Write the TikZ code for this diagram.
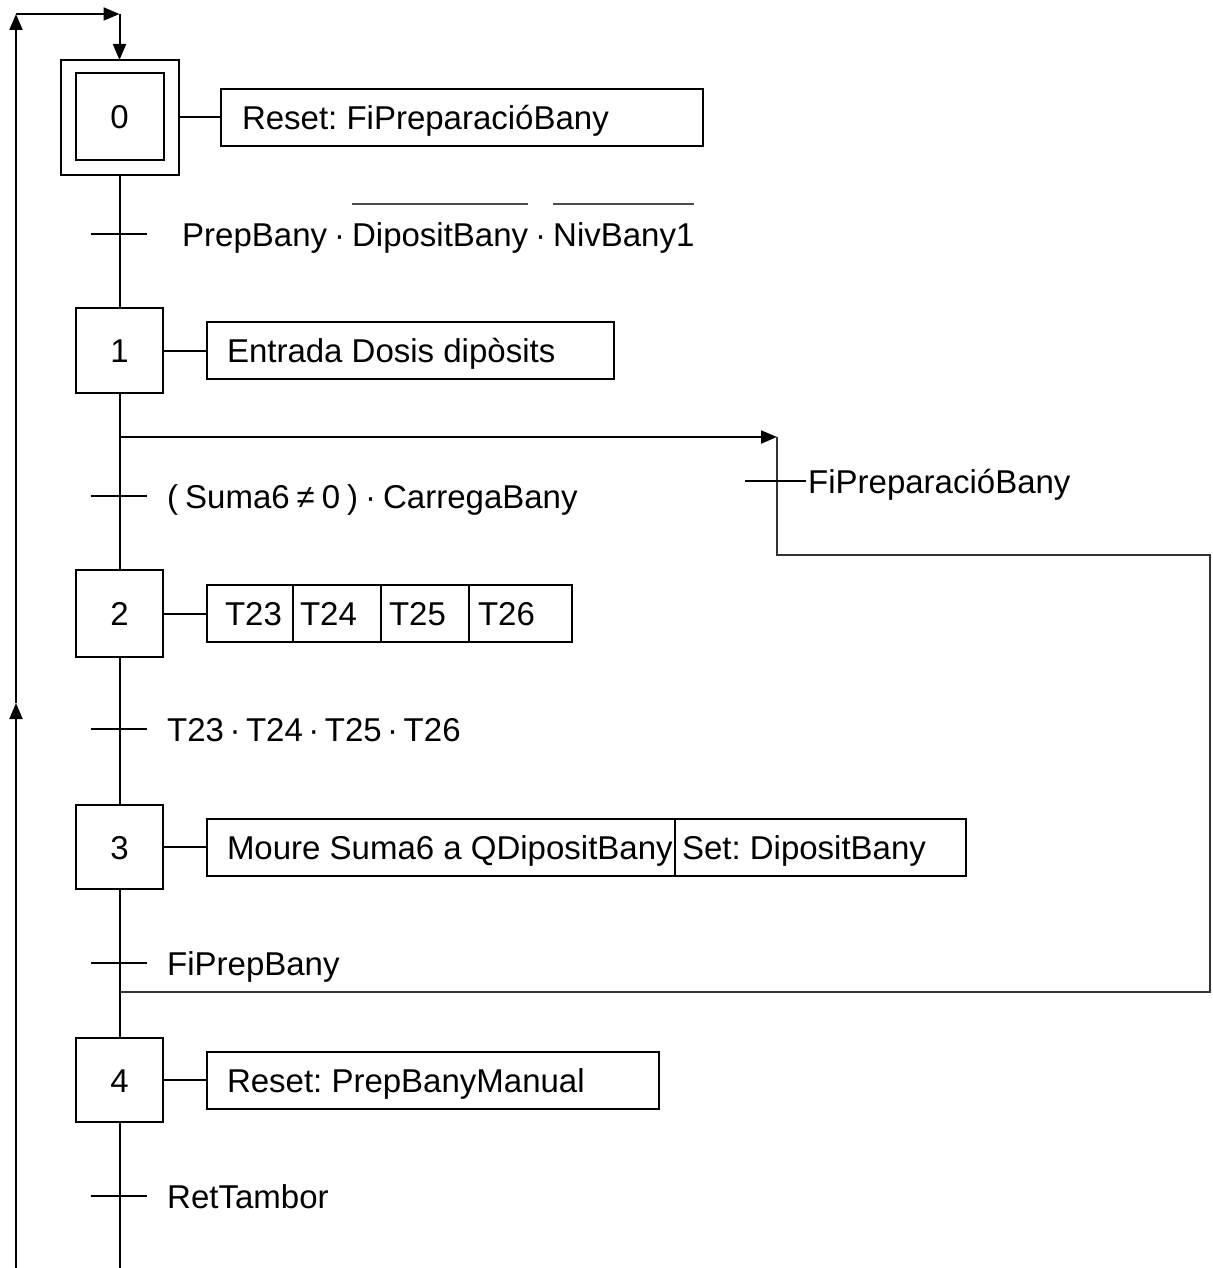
\documentclass[tikz,border=0pt]{standalone}
\usepackage{fontspec}
\setmainfont{Liberation Sans}
\usetikzlibrary{arrows.meta}
% word with a bar drawn high above it (negated variable)
\newcommand\barred[1]{\setbox0\hbox{#1}\rlap{\raisebox{41pt}{\color{black!70}\rule{\wd0}{1.6pt}}}\box0\relax}
% fixed-width cell content with a left inset
\newcommand\cellt[3]{\makebox[#1][l]{\hspace*{#2}#3}}
\begin{document}
\frenchspacing
\begin{tikzpicture}[x=1pt,y=-1pt,
  every node/.style={font=\fontsize{33}{40}\selectfont},
  ln/.style={line width=2pt},
  arr/.style={ln,-{Triangle[length=16pt,width=13pt]}},
  stepbox/.style={draw,line width=2pt,minimum width=87pt,inner sep=0pt,outer sep=0pt,text height=24pt,text depth=0pt},
  act/.style={draw,line width=2pt,anchor=west,minimum height=57pt,inner sep=0pt,outer sep=0pt,text height=24pt,text depth=0pt},
  cond/.style={anchor=west,inner sep=0pt,text height=24pt,text depth=0pt}]

\useasboundingbox (0,0) rectangle (1212,1268);

% steps
\node[stepbox,minimum width=118pt,minimum height=115pt] (s0) at (119.5,117.5) {};
\node[stepbox,minimum width=88pt,minimum height=87pt] (s0i) at (119.5,116.5) {0};
\node[stepbox,minimum height=85pt] (s1) at (119.5,350.5) {1};
\node[stepbox,minimum height=87pt] (s2) at (119.5,613.5) {2};
\node[stepbox,minimum height=84pt] (s3) at (119.5,847) {3};
\node[stepbox,minimum height=84pt] (s4) at (119.5,1080) {4};

% actions
\node[act] (a0) at (221,117.5) {\cellt{482pt}{21pt}{Reset: FiPreparacióBany}};
\node[act] (a1) at (207,350.5) {\cellt{407pt}{20pt}{Entrada Dosis dipòsits}};
\node[act] (a2a) at (207,613.5) {\cellt{86pt}{18pt}{T23}};
\node[act] (a2b) at (a2a.east) {\cellt{88pt}{7pt}{T24}};
\node[act] (a2c) at (a2b.east) {\cellt{88pt}{8pt}{T25}};
\node[act] (a2d) at (a2c.east) {\cellt{103pt}{9pt}{T26}};
\node[act] (a3a) at (207,847) {\cellt{468pt}{20pt}{Moure Suma6 a QDipositBany}};
\node[act] (a3b) at (a3a.east) {\cellt{291pt}{7pt}{Set: DipositBany}};
\node[act] (a4) at (207,1080) {\cellt{452pt}{20pt}{Reset: PrepBanyManual}};

\foreach \s/\a in {s0/a0,s1/a1,s2/a2a,s3/a3a,s4/a4}
  \draw[ln] (\s.east) -- (\a.west);

% main flow line
\coordinate (bot) at (119.5,1268);
\draw[ln] (s0.south) -- (s1.north);
\draw[ln] (s1.south) -- (s2.north);
\draw[ln] (s2.south) -- (s3.north);
\draw[ln] (s3.south) -- (s4.north);
\draw[ln] (s4.south) -- (bot);

% transitions
\foreach \n/\y in {t01/234,t12/496,t23/729,t34/963,t40/1196}{
  \coordinate (\n) at (119.5,\y);
  \draw[ln] ([xshift=-29pt]\n) -- ([xshift=27pt]\n);
}
\node[cond] (c01) at (182,234) {\spaceskip=7pt PrepBany · \barred{DipositBany} · \barred{NivBany1}};
\node[cond] (c12) at (167,496) {\spaceskip=7pt ( Suma6 ≠ 0 ) · CarregaBany};
\node[cond] (c23) at (167,729) {\spaceskip=5.5pt T23 · T24 · T25 · T26};
\node[cond] (c34) at (167,963) {FiPrepBany};
\node[cond] (c40) at (167,1196) {RetTambor};

% divergence to the end of preparation
\coordinate (b0) at (119.5,437);
\coordinate (b1) at (777,437);
\coordinate (b2) at (777,555);
\coordinate (b3) at (1210,555);
\coordinate (b4) at (1210,992);
\coordinate (b5) at (119.5,992);
\draw[arr] (b0) -- (b1);
\draw[ln,black!80] (b1) -- (b2) -- (b3) -- (b4) -- (b5);
\coordinate (tf) at (777,481);
\draw[ln] ([xshift=-32pt]tf) -- ([xshift=29pt]tf);
\node[cond] (cf) at (808,481) {FiPreparacióBany};

% loop back to the initial step
\coordinate (l0) at (16,1268);
\coordinate (l1) at (16,703);
\coordinate (l2) at (16,14);
\coordinate (l3) at (119.5,14);
\draw[arr] (l0) -- (l1);
\draw[arr] (l1) -- (l2);
\draw[arr] (l2) -- (l3);
\draw[arr] (l3) -- (s0.north);
\end{tikzpicture}
\end{document}
